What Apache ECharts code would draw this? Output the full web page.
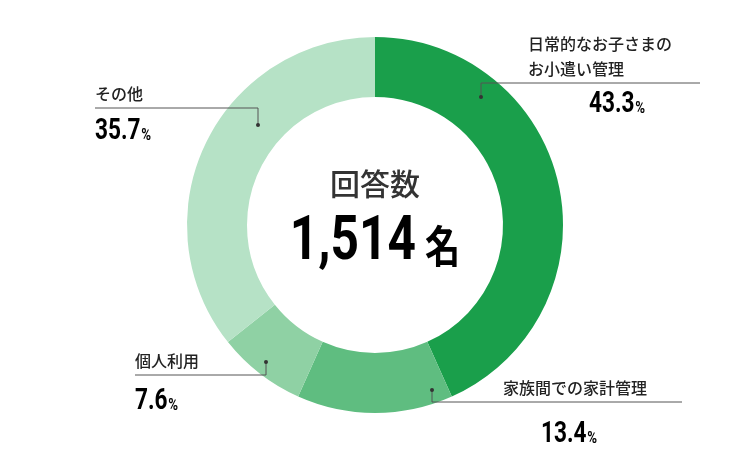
<!DOCTYPE html>
<html><head><meta charset="utf-8">
<script src="https://cdn.jsdelivr.net/npm/echarts@6/dist/echarts.min.js"></script>
<style>html,body{margin:0;background:#fff}#c{width:750px;height:450px}</style>
</head><body><div id="c"></div>
<script>
const categories = ['日常的なお子さまの\nお小遣い管理', '家族間での家計管理', '個人利用', 'その他'];
const values = [43.3, 13.4, 7.6, 35.7];
const colors = ['#1a9f4b', '#5fbd80', '#8fd1a4', '#b6e2c6'];
const totalLabel = '回答数';
const totalValue = '1,514';
const totalUnit = '名';

// layout only: dot, elbow, line end, name pos, percent pos
const layout = [
  {dot:[481,97], elbow:[481,83], end:[700,83], name:[528,81], pct:[645,105,'right']},
  {dot:[432,390], elbow:[432,402], end:[682,402], name:[503,400], pct:[597,435,'right']},
  {dot:[266,362], elbow:[266,375], end:[135,375], name:[135,373], pct:[135,402,'left']},
  {dot:[258,125], elbow:[258,108], end:[95,108], name:[95,106], pct:[95,132,'left']}
];
const graphics = [];
values.forEach((v,i)=>{
  const L = layout[i];
  graphics.push({type:'polyline', silent:true, shape:{points:[L.dot,L.elbow,L.end]}, style:{stroke:'#555',lineWidth:1,fill:null}, z:10});
  graphics.push({type:'circle', shape:{cx:L.dot[0],cy:L.dot[1],r:2}, style:{fill:'#333'}, z:11});
  graphics.push({type:'text', x:L.name[0], y:L.name[1], style:{text:categories[i], fill:'#222', font:'500 16px "Noto Sans CJK JP"', lineHeight:25, align:'left', verticalAlign:'bottom'}, z:11});
  graphics.push({type:'text', x:L.pct[0], y:L.pct[1], scaleX:0.78, style:{text:'{n|'+v.toFixed(1)+'}{s|%}', align:L.pct[2], verticalAlign:'middle',
    rich:{n:{fontFamily:'Roboto', fontWeight:'bold', fontSize:29, color:'#333'}, s:{fontFamily:'Roboto', fontWeight:'bold', fontSize:17, color:'#333', padding:[8,0,0,1]}}}, z:11});
});
graphics.push({type:'text', x:375, y:184, style:{text:totalLabel, fill:'#333', font:'500 30px "Noto Sans CJK JP"', align:'center', verticalAlign:'middle'}});
graphics.push({type:'text', x:375, y:243, scaleX:0.8, style:{text:'{n|'+totalValue+'} {u|'+totalUnit+'}', align:'center', verticalAlign:'middle',
  rich:{n:{fontFamily:'Roboto', fontWeight:'bold', fontSize:62, color:'#333'}, u:{fontFamily:'Noto Sans CJK JP', fontWeight:'bold', fontSize:44, color:'#333', padding:[6,0,0,8]}}}});
const chart = echarts.init(document.getElementById('c'));
chart.setOption({
  animation:false,
  graphic: graphics,
  series:[{type:'pie', center:[375,225], radius:[128,188], startAngle:90, clockwise:true,
    label:{show:false}, labelLine:{show:false}, silent:true,
    data: values.map((v,i)=>({name:categories[i], value:v, itemStyle:{color:colors[i]}}))}]
});
</script></body></html>
